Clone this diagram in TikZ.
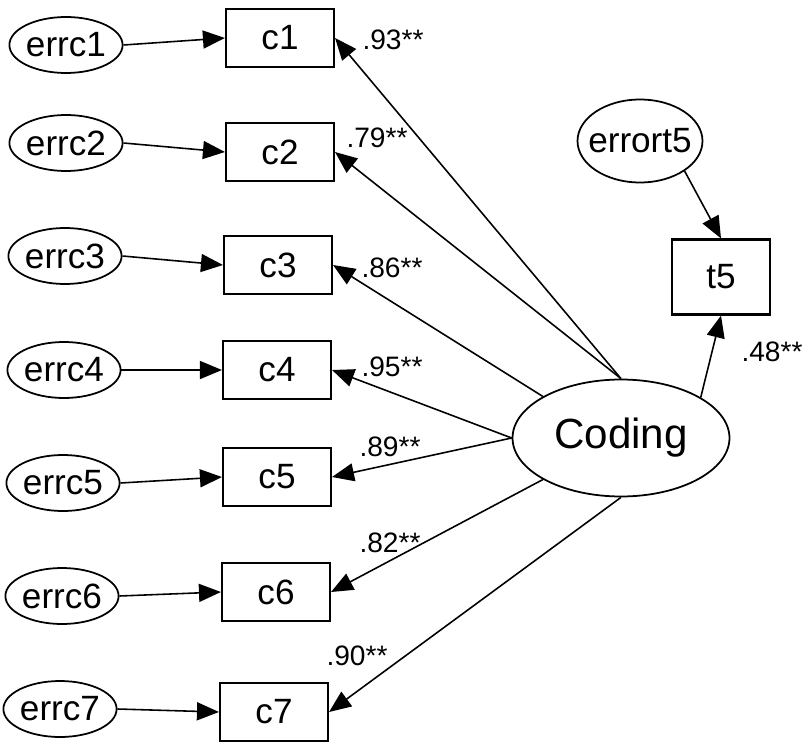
\documentclass[tikz,border=0pt]{standalone}
\usepackage{fontspec}
\setmainfont{Liberation Sans}
\usetikzlibrary{arrows.meta,shapes.geometric}

\begin{document}
\begin{tikzpicture}[x=0.02cm, y=-0.02cm, >={Triangle[length=0.44cm, width=0.36cm]},
  obs/.style={draw, line width=1.2pt, rectangle, minimum width=2.16cm, minimum height=1.16cm,
    inner sep=0pt, font=\fontsize{20}{24}\selectfont},
  err/.style={draw, line width=1pt, ellipse, minimum width=2.24cm, minimum height=1.12cm,
    inner sep=0pt, font=\fontsize{20}{24}\selectfont},
  lat/.style={draw, line width=1pt, ellipse, minimum width=4.34cm, minimum height=2.34cm,
    inner sep=0pt, font=\fontsize{24}{28}\selectfont},
  lbl/.style={inner sep=0pt, font=\fontsize{16}{19}\selectfont},
  arr/.style={->, line width=0.9pt}]
  \useasboundingbox (0,0) rectangle (804,743);
  % error terms
  \node[err] (errc1) at (66,45) {errc1};
  \node[err] (errc2) at (66,143) {errc2};
  \node[err] (errc3) at (65,256) {errc3};
  \node[err] (errc4) at (64,370) {errc4};
  \node[err] (errc5) at (63,483) {errc5};
  \node[err] (errc6) at (62,596) {errc6};
  \node[err] (errc7) at (60,709) {errc7};
  % indicators
  \node[obs] (c1) at (280,38) {c1};
  \node[obs] (c2) at (280,152) {c2};
  \node[obs] (c3) at (278,265) {c3};
  \node[obs] (c4) at (277,370) {c4};
  \node[obs] (c5) at (277,477) {c5};
  \node[obs] (c6) at (276,592) {c6};
  \node[obs] (c7) at (274,712) {c7};
  % latent factor and outcome
  \node[lat] (Coding) at (621,438) {Coding};
  \node[err, minimum width=2.5cm, minimum height=1.66cm, inner xsep=-5pt] (errort5) at (640,141) {errort5};
  \node[obs, minimum width=1.96cm, minimum height=1.5cm] (t5) at (721,277) {t5};
  % error paths
  \draw[arr] (errc1.east) -- (c1.west);
  \draw[arr] (errc2.east) -- (c2.west);
  \draw[arr] (errc3.east) -- (c3.west);
  \draw[arr] (errc4.east) -- (c4.west);
  \draw[arr] (errc5.east) -- (c5.west);
  \draw[arr] (errc6.east) -- (c6.west);
  \draw[arr] (errc7.east) -- (c7.west);
  \draw[arr] (errort5.-34) -- (t5.north);
  % loadings
  \draw[arr] (Coding.north) -- (c1.east);
  \draw[arr] (Coding.north) -- (c2.east);
  \draw[arr] (Coding.152) -- (c3.east);
  \draw[arr] (Coding.west) -- (c4.east);
  \draw[arr] (Coding.west) -- (c5.east);
  \draw[arr] (Coding.208) -- (c6.east);
  \draw[arr] (Coding.south) -- (c7.east);
  \draw[arr] (Coding.27) -- (t5.south);
  \node[lbl] (lc1) at (393,40) {.93**};
  \node[lbl] (lc2) at (377,138) {.79**};
  \node[lbl] (lc3) at (392,268) {.86**};
  \node[lbl] (lc4) at (392,367) {.95**};
  \node[lbl] (lc5) at (390,447) {.89**};
  \node[lbl] (lc6) at (390,543) {.82**};
  \node[lbl] (lc7) at (357,656) {.90**};
  \node[lbl] (lt5) at (772,352) {.48**};
\end{tikzpicture}
\end{document}
